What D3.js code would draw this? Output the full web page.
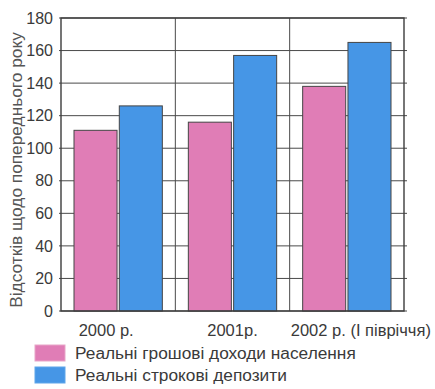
<!DOCTYPE html>
<html>
<head>
<meta charset="utf-8">
<script src="https://cdn.jsdelivr.net/npm/d3@7"></script>
<style>
  html, body { margin: 0; padding: 0; background: #fff; }
  svg { display: block; }
  text { font-family: "Liberation Sans", Arial, sans-serif; fill: #3a3a3a; }
</style>
</head>
<body>
<svg id="chart" width="435" height="389"></svg>
<script>
// Categories (periods) and the two series, % relative to previous year
const categories = ["2000 р.", "2001р.", "2002 р. (І півріччя)"];
const seriesNames = ["Реальні грошові доходи населення", "Реальні строкові депозити"];
const incomes = [111, 116, 138];
const deposits = [126, 157, 165];
const yTicks = [0, 20, 40, 60, 80, 100, 120, 140, 160, 180];
const yTitle = "Відсотків щодо попереднього року";

const colors = ["#e07db6", "#4696e6"];

const margin = { left: 61, top: 18, right: 31, bottom: 78 };
const W = 435, H = 389;
const plotW = W - margin.left - margin.right;
const plotH = H - margin.top - margin.bottom;
const FONT = "'Liberation Sans', Arial, sans-serif";

const svg = d3.select("#chart");
const g = svg.append("g").attr("transform", `translate(${margin.left},${margin.top})`);

const x = d3.scaleBand().domain(categories).range([0, plotW]).paddingInner(0).paddingOuter(0);
const xs = d3.scaleBand().domain([0, 1]).range([13, x.bandwidth() - 13]).paddingInner(0.05);
const y = d3.scaleLinear().domain([0, 180]).range([plotH, 0]);

// horizontal grid lines
g.append("g").selectAll("line").data(yTicks).join("line")
  .attr("x1", -2).attr("x2", plotW + 3)
  .attr("y1", d => y(d)).attr("y2", d => y(d))
  .attr("stroke", "#4a4a4a").attr("stroke-width", 1);

// vertical separators between periods
g.append("g").selectAll("line").data(categories.slice(1)).join("line")
  .attr("x1", d => x(d)).attr("x2", d => x(d))
  .attr("y1", 0).attr("y2", plotH)
  .attr("stroke", "#4a4a4a").attr("stroke-width", 1);

// bars
const rows = categories.map((c, i) => ({ c, v: [incomes[i], deposits[i]] }));
const grp = g.append("g").selectAll("g").data(rows).join("g")
  .attr("transform", d => `translate(${x(d.c)},0)`);
grp.selectAll("rect").data(d => d.v.map((v, k) => ({ v, k }))).join("rect")
  .attr("x", d => xs(d.k))
  .attr("width", xs.bandwidth())
  .attr("y", d => y(d.v))
  .attr("height", d => plotH - y(d.v))
  .attr("fill", d => colors[d.k])
  .attr("stroke", "#454545").attr("stroke-width", 1);

// frame
g.append("rect").attr("x", 0).attr("y", 0).attr("width", plotW).attr("height", plotH)
  .attr("fill", "none").attr("stroke", "#3c3c3c").attr("stroke-width", 1.4);

// y axis tick labels
const yAxis = d3.axisLeft(y).tickValues(yTicks).tickSize(0).tickPadding(8);
const ya = g.append("g").call(yAxis);
ya.select(".domain").remove();
ya.selectAll("text").attr("font-size", 16).style("fill", "#3a3a3a")
  .style("font-family", FONT);

// x axis labels
const labelShift = [-12, 0, 14];
const xa = g.append("g").attr("transform", `translate(0,${plotH})`)
  .call(d3.axisBottom(x).tickSize(0).tickPadding(13));
xa.select(".domain").remove();
xa.selectAll("text").attr("font-size", 16.5).style("fill", "#3a3a3a")
  .style("font-family", FONT)
  .attr("dx", (d, i) => labelShift[i]);

// y axis title
svg.append("text")
  .attr("transform", `translate(22,170) rotate(-90)`)
  .attr("text-anchor", "middle")
  .attr("font-size", 17.3)
  .style("fill", "#555")
  .text(yTitle);

// legend
const lg = svg.append("g").attr("transform", "translate(35,345)");
seriesNames.forEach((name, i) => {
  const row = lg.append("g").attr("transform", `translate(0,${i * 22})`);
  row.append("rect").attr("width", 30).attr("height", 16)
    .attr("fill", colors[i]).attr("stroke", i === 0 ? "#e7a6c8" : "#5fa6ea");
  row.append("text").attr("x", 40).attr("y", 14).attr("font-size", 17.3).text(name);
});
</script>
</body>
</html>
